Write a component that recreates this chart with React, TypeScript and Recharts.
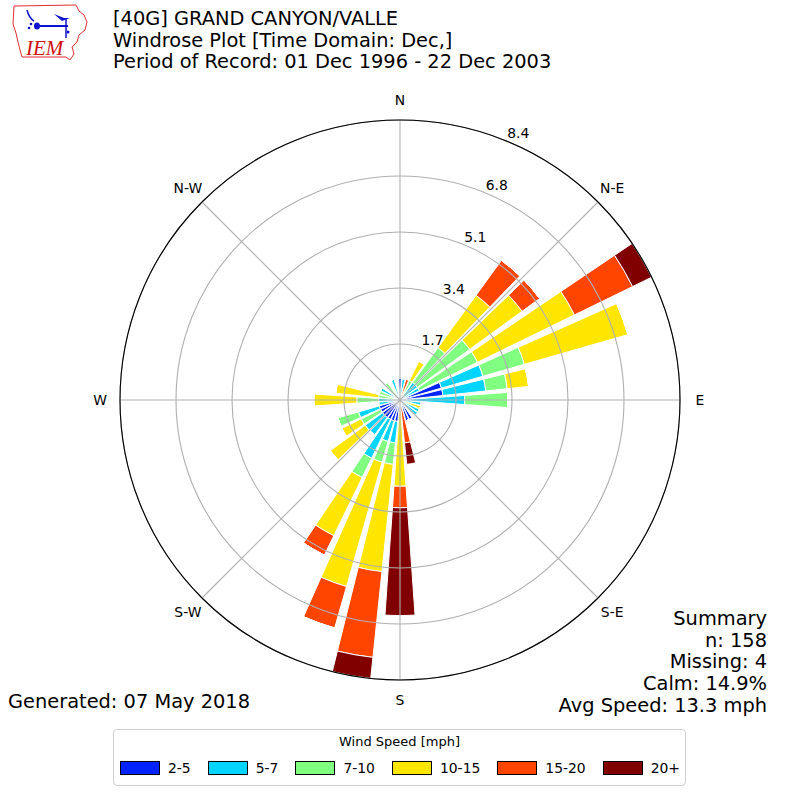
import React from "react";
import {
  PolarAngleAxis,
  PolarGrid,
  PolarRadiusAxis,
  RadarChart,
  RadialBar,
  RadialBarChart,
} from "recharts";

// wind directions (deg, clockwise from north), 10 degree bins
const directions = [
  0, 10, 20, 30, 40, 50, 60, 70, 80, 90, 100, 110, 120, 130, 140, 150, 160, 170,
  180, 190, 200, 210, 220, 230, 240, 250, 260, 270, 280, 290, 300, 310, 320, 330, 340, 350,
];

// frequency (%) per speed bin and direction
const speed2to5 = [
  0.65, 0, 0, 0, 0, 0, 0, 1.3, 1.3, 0, 0, 0, 0, 0, 0, 0.65, 0.65, 0,
  0, 0.65, 0.65, 0.65, 0.65, 0.65, 0.65, 0.65, 0, 0, 0, 0, 0, 0, 0, 0, 0, 0,
];
const speed5to7 = [
  0, 0.65, 0, 0, 0.65, 0.65, 0.65, 1.3, 1.3, 1.95, 0.65, 0, 0.65, 0.65, 0, 0, 0, 0,
  0, 0.65, 0.65, 1.3, 0.65, 0.65, 0, 0.65, 0.65, 0.65, 0, 0, 0.65, 0, 0, 0, 0.65, 0,
];
const speed7to10 = [
  0, 0, 0, 0.65, 1.3, 1.95, 1.95, 1.3, 0.65, 1.3, 0, 0, 0, 0, 0, 0, 0, 0,
  0, 0.65, 0.65, 0.65, 0, 0, 0.65, 0.65, 0, 0.65, 0.65, 0.65, 0, 0, 0.65, 0, 0, 0,
];
const speed10to15 = [
  0, 0, 0, 0.65, 1.95, 1.95, 3.25, 3.25, 0.65, 0, 0, 0.65, 0, 0, 0, 0, 0, 0,
  2.6, 3.25, 3.9, 1.95, 0, 1.3, 0.65, 0, 0, 1.3, 1.3, 0, 0, 0, 0, 0, 0, 0,
];
const speed15to20 = [
  0, 0, 0.65, 0, 1.3, 0.65, 1.95, 0, 0, 0, 0, 0, 0, 0, 0, 0, 0, 1.3,
  0.65, 2.6, 1.3, 0.65, 0, 0, 0, 0, 0, 0, 0, 0, 0, 0, 0, 0, 0, 0,
];
const speed20plus = [
  0, 0, 0, 0, 0, 0, 0.65, 0, 0, 0, 0, 0, 0, 0, 0, 0, 0, 0.65,
  3.25, 0.65, 0, 0, 0, 0, 0, 0, 0, 0, 0, 0, 0, 0, 0, 0, 0, 0,
];

const series = [speed2to5, speed5to7, speed7to10, speed10to15, speed15to20, speed20plus];
const speedBins = ["2-5", "5-7", "7-10", "10-15", "15-20", "20+"];
const binColors = ["#0022ff", "#00d4ff", "#80ff80", "#ffe600", "#ff4500", "#800000"];

const compassLabels = ["N", "N-E", "E", "S-E", "S", "S-W", "W", "N-W"];
const radiusTicks = [1.688, 3.376, 5.064, 6.752, 8.44];

const titleLines = [
  "[40G] GRAND CANYON/VALLE",
  "Windrose Plot [Time Domain: Dec,]",
  "Period of Record: 01 Dec 1996 - 22 Dec 2003",
];
const summaryLines = ["Summary", "n: 158", "Missing: 4", "Calm: 14.9%", "Avg Speed: 13.3 mph"];
const generatedText = "Generated: 07 May 2018";

const rows = directions.map((dir, i) => {
  const row: Record<string, number> = { dir };
  series.forEach((arr, k) => {
    row[`s${k}`] = arr[i];
  });
  return row;
});

const compassRows = compassLabels.map((name) => ({ name }));

const CompassTick = (props: any) => {
  const { x, y, payload } = props;
  return (
    <text x={x} y={y} textAnchor="middle" dominantBaseline="central" fontSize={13.9} fill="#000">
      {payload.value}
    </text>
  );
};

const RadiusTick = (props: any) => {
  const { x, y, payload } = props;
  return (
    <text x={x} y={y - 3} textAnchor="start" fontSize={13.9} fill="#000">
      {Number(payload.value).toFixed(1)}
    </text>
  );
};

const Logo = () => (
  <g>
    <path
      d="M14 6 L76 5 L79 11 L84 15 L87 22 L85 30 L79 35 L77 42 L72 47 L74 54 L70 60 L66 57 L22 57 L20 50 L18 42 L16 33 L13 24 Z"
      fill="none"
      stroke="#e03030"
      strokeWidth={1}
    />
    <path d="M27 10 Q29 18 34 21" stroke="#1010d0" strokeWidth={1.5} fill="none" />
    <line x1="34" y1="26" x2="68" y2="26" stroke="#1010d0" strokeWidth={2} />
    <ellipse cx="37" cy="26" rx="3" ry="3.5" fill="#1010d0" />
    <path d="M54 14 L64 18 L70 18 L62 21 Z" fill="#1010d0" />
    <line x1="66" y1="18" x2="66" y2="38" stroke="#1010d0" strokeWidth={1.5} />
    <circle cx="29" cy="28" r="1.3" fill="#1010d0" />
    <circle cx="31" cy="24" r="1.3" fill="#1010d0" />
    <circle cx="68" cy="32" r="1.5" fill="#1010d0" />
    <text x="26" y="55" fontFamily="'Liberation Serif', serif" fontStyle="italic" fontSize={21} fill="#d01010">
      IEM
    </text>
  </g>
);

export default function App() {
  return (
    <div
      style={{
        position: "absolute",
        left: 0,
        top: 0,
        width: 800,
        height: 800,
        background: "#fff",
        fontFamily: "'DejaVu Sans', sans-serif",
        overflow: "hidden",
      }}
    >
      {/* stacked wind-rose bars */}
      <div style={{ position: "absolute", left: 0, top: 0 }}>
        <RadialBarChart
          width={800}
          height={800}
          cx={400}
          cy={400}
          innerRadius={0}
          outerRadius={280}
          startAngle={85}
          endAngle={-275}
          layout="centric"
          data={rows}
          barCategoryGap="10%"
          margin={{ top: 0, right: 0, bottom: 0, left: 0 }}
        >
          <PolarAngleAxis dataKey="dir" type="category" tick={false} tickLine={false} axisLine={false} />
          <PolarRadiusAxis
            type="number"
            domain={[0, 8.44]}
            ticks={radiusTicks}
            angle={67.5}
            axisLine={false}
            tickLine={false}
            tick={<RadiusTick />}
            allowDataOverflow
          />
          {series.map((_, k) => (
            <RadialBar
              key={speedBins[k]}
              dataKey={`s${k}`}
              stackId="wind"
              fill={binColors[k]}
              stroke="#fff"
              strokeWidth={1}
              isAnimationActive={false}
            />
          ))}
        </RadialBarChart>
      </div>

      {/* range rings, compass spokes, labels and frame drawn above the bars */}
      <div style={{ position: "absolute", left: 0, top: 0, pointerEvents: "none" }}>
        <RadarChart
          width={800}
          height={800}
          cx={400}
          cy={400}
          innerRadius={0}
          outerRadius={280}
          startAngle={90}
          endAngle={-270}
          data={compassRows}
          margin={{ top: 0, right: 0, bottom: 0, left: 0 }}
        >
          <PolarGrid gridType="circle" stroke="#b0b0b0" strokeWidth={1.1} />
          <PolarAngleAxis
            dataKey="name"
            type="category"
            tick={<CompassTick />}
            tickLine={false}
            tickSize={20}
            axisLine={{ stroke: "#000", strokeWidth: 1.1 }}
            axisLineType="circle"
          />
          <PolarRadiusAxis
            type="number"
            domain={[0, 8.44]}
            ticks={radiusTicks}
            tick={false}
            tickLine={false}
            axisLine={false}
            allowDataOverflow
          />
        </RadarChart>
      </div>

      <svg width={800} height={800} style={{ position: "absolute", left: 0, top: 0, pointerEvents: "none" }}>
        <Logo />
        {titleLines.map((t, i) => (
          <text key={t} x={113} y={25 + i * 21.5} fontSize={19.4} fill="#000">
            {t}
          </text>
        ))}
        {summaryLines.map((t, i) => (
          <text key={t} x={767} y={625 + i * 21.7} fontSize={19.4} fill="#000" textAnchor="end">
            {t}
          </text>
        ))}
        <text x={8} y={708} fontSize={19.4} fill="#000">
          {generatedText}
        </text>
      </svg>

      <div
        style={{
          position: "absolute",
          left: 113,
          top: 729,
          width: 573,
          height: 57,
          boxSizing: "border-box",
          border: "1px solid #d0d0d0",
          borderRadius: 4,
        }}
      />
      <div
        style={{
          position: "absolute",
          left: 113,
          top: 734,
          width: 573,
          textAlign: "center",
          fontSize: 13,
          lineHeight: "16px",
        }}
      >
        Wind Speed [mph]
      </div>
      <div
        style={{
          position: "absolute",
          left: 120,
          top: 760,
          display: "flex",
          alignItems: "center",
          gap: 17,
          fontSize: 13.9,
          lineHeight: "16px",
        }}
      >
        {speedBins.map((b, k) => (
          <div key={b} style={{ display: "flex", alignItems: "center", gap: 8 }}>
            <div
              style={{
                width: 40,
                height: 14,
                boxSizing: "border-box",
                border: "1px solid #000",
                background: binColors[k],
              }}
            />
            <span>{b}</span>
          </div>
        ))}
      </div>
    </div>
  );
}
